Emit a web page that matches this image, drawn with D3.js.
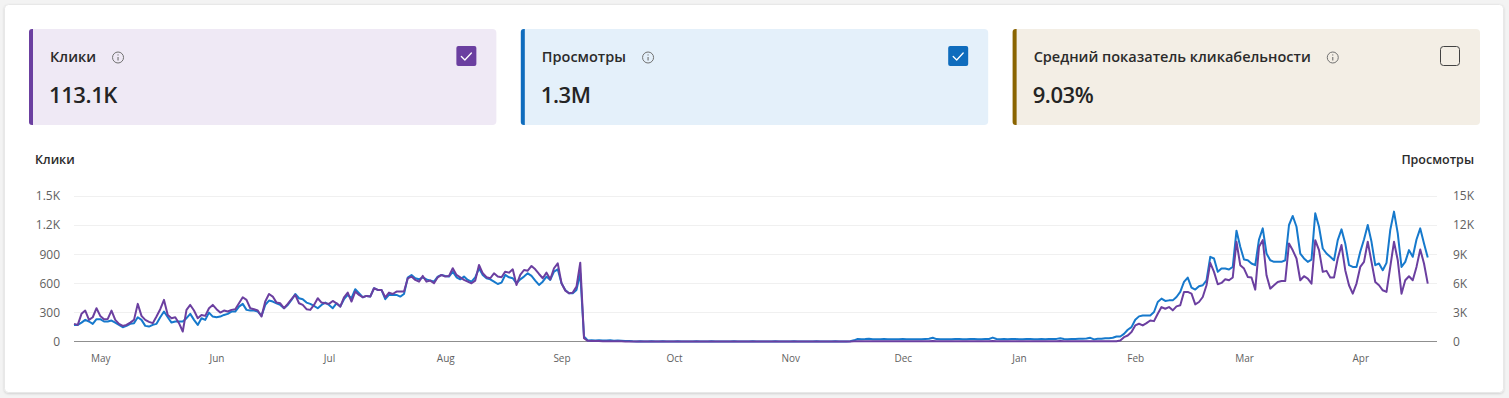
<!DOCTYPE html>
<html>
<head>
<meta charset="utf-8">
<script src="https://cdn.jsdelivr.net/npm/d3@7"></script>
<style>
  body { margin: 0; background: #f3f3f3; font-family: "Segoe UI", "Open Sans", sans-serif; }
  svg { display: block; }
</style>
</head>
<body>
<svg id="chart" width="1509" height="398"></svg>
<script>
// summary cards
const cardTitles = ["Клики", "Просмотры", "Средний показатель кликабельности"];
const cardValues = ["113.1K", "1.3M", "9.03%"];
const cardChecked = [true, true, false];

// axis labels
const leftAxisTitle = "Клики";
const rightAxisTitle = "Просмотры";
const clickTicks = [0, 300, 600, 900, 1200, 1500];
const viewTicks = [0, 3000, 6000, 9000, 12000, 15000];

// daily series, first day 2023-04-24
const firstDay = new Date(2023, 3, 24);

const clicks = [
  182, 171, 285, 319, 223, 250, 343, 264, 230, 233,
  319, 223, 182, 161, 171, 195, 223, 388, 264, 223,
  202, 189, 257, 333, 429, 274, 240, 250, 189, 103,
  326, 377, 319, 240, 274, 264, 343, 377, 333, 298,
  319, 309, 326, 333, 394, 456, 429, 343, 333, 319,
  257, 412, 490, 463, 401, 394, 343, 388, 436, 480,
  394, 377, 333, 326, 377, 446, 401, 394, 388, 418,
  394, 360, 456, 504, 412, 515, 480, 456, 470, 463,
  549, 532, 532, 456, 504, 490, 515, 515, 515, 650,
  669, 635, 617, 676, 617, 628, 600, 662, 686, 669,
  676, 755, 686, 662, 635, 617, 600, 628, 789, 703,
  662, 652, 703, 669, 662, 720, 710, 744, 583, 686,
  737, 730, 779, 744, 696, 652, 710, 641, 755, 806,
  600, 525, 497, 504, 566, 813, 34, 7,
  5, 4, 4, 3, 3, 2, 3, 2, 2, 1, 1,
  1, 0, 1, 0, 0, 1, 0, 0, 1, 0,
  0, 0, 1, 0, 0, 0, 0, 1, 0, 0,
  0, 1, 0, 0, 0, 0, 0, 1, 0, 0,
  0, 0, 1, 0, 0, 0, 0, 0, 1, 0,
  0, 0, 0, 1, 0, 0, 0, 0, 0, 1,
  0, 0, 0, 0, 1, 0, 0, 0, 1, 2,
  3, 2, 3, 3, 2, 2, 3, 3, 2, 2,
  2, 3, 3, 2, 2, 3, 3, 2, 3, 3,
  4, 3, 2, 2, 3, 2, 3, 3, 2, 2,
  3, 3, 2, 2, 3, 3, 4, 3, 2, 3,
  2, 3, 3, 2, 2, 3, 3, 2, 2, 3,
  2, 3, 3, 3, 4, 3, 2, 3, 3, 3,
  3, 3,
  3, 3, 3, 3, 3, 3, 3, 3, 10, 45,
  62, 97, 166, 183, 166, 190, 217, 210, 286, 355,
  338, 355, 321, 362, 373, 511, 511, 493, 383, 407,
  459, 580, 811, 718, 590, 604, 642, 631, 660, 1028,
  787, 752, 666, 659, 535, 976, 1045, 683, 545, 580,
  614, 624, 624, 1011, 940, 856, 631, 673, 649, 597,
  1045, 942, 718, 728, 659, 659, 856, 994, 735, 580,
  493, 597, 769, 821, 1028, 821, 614, 580, 528, 511,
  769, 1028, 838, 493, 631, 673, 631, 769, 949, 804,
  597
];

const views = [
  1710, 1710, 1950, 2230, 2060, 1820, 2300, 2300, 2060, 2060,
  2160, 1950, 1710, 1470, 1610, 1820, 1890, 2500, 2230, 1610,
  1540, 1710, 1820, 2500, 3090, 2500, 1950, 2060, 2060, 2060,
  2400, 2850, 2230, 1710, 2400, 2230, 2980, 2570, 2500, 2570,
  2740, 2850, 3090, 3090, 3600, 3880, 3260, 3190, 3190, 3090,
  2640, 3770, 4220, 4120, 3940, 3770, 3430, 3770, 4290, 4900,
  4460, 4360, 4010, 3880, 3670, 3430, 3770, 4010, 3770, 3430,
  3940, 3600, 4360, 4800, 4460, 5390, 4970, 4560, 4700, 4630,
  5490, 5320, 5320, 4360, 4800, 4800, 4800, 4630, 4900, 6600,
  6860, 6520, 6410, 6620, 6410, 6280, 6170, 6690, 6860, 6760,
  6690, 7200, 6620, 6410, 6690, 6350, 6170, 6620, 7550, 6860,
  6520, 6410, 6170, 5930, 6070, 6860, 6620, 6520, 6000, 6410,
  6690, 7030, 6760, 6280, 5830, 6170, 6690, 6350, 7200, 7440,
  6000, 5320, 4970, 4970, 5320, 7030, 510, 100,
  120, 110, 130, 110, 100, 120, 90, 100, 80, 60, 40,
  20, 10, 20, 10, 10, 20, 10, 10, 20, 10,
  10, 10, 20, 10, 10, 10, 10, 20, 10, 10,
  10, 20, 10, 10, 10, 10, 10, 20, 10, 10,
  10, 10, 20, 10, 10, 10, 10, 10, 20, 10,
  10, 10, 10, 20, 10, 10, 10, 10, 10, 20,
  10, 10, 10, 10, 20, 10, 10, 10, 30, 120,
  260, 230, 250, 280, 240, 220, 230, 250, 240, 230,
  220, 240, 260, 230, 220, 230, 240, 220, 250, 280,
  380, 250, 230, 220, 240, 230, 250, 260, 240, 230,
  250, 270, 230, 240, 250, 260, 400, 260, 240, 250,
  230, 260, 250, 240, 230, 250, 260, 240, 230, 250,
  240, 260, 250, 270, 330, 260, 240, 250, 260, 280,
  290, 300,
  380, 220, 280, 280, 340, 340, 380, 520, 520, 790,
  1210, 1480, 2240, 2590, 2690, 2690, 2690, 3040, 4070, 4420,
  4180, 4240, 4240, 4590, 5110, 6140, 6590, 5560, 5350, 5690,
  5800, 6310, 8730, 8560, 7180, 7520, 7520, 7420, 7690, 11420,
  9760, 8450, 8380, 8040, 7870, 10520, 11660, 9070, 8380, 8210,
  8210, 8210, 8380, 12010, 12940, 11830, 9070, 8560, 8210, 8450,
  13210, 11830, 9590, 9070, 8730, 8380, 10450, 11560, 10110, 7870,
  7690, 7690, 9250, 10520, 12010, 10280, 7870, 8040, 7350, 8110,
  11490, 13390, 11140, 7690, 8210, 9420, 8730, 10520, 11660, 10110,
  8660
];

const purple = "#6b3fa0";
const blue = "#0f6cbd";

const svg = d3.select("#chart");

const defs = svg.append("defs");
const shadow = defs.append("filter").attr("id", "shadow")
  .attr("x", "-2%").attr("y", "-2%").attr("width", "104%").attr("height", "106%");
shadow.append("feDropShadow").attr("dx", 0).attr("dy", 1).attr("stdDeviation", 1.2)
  .attr("flood-color", "#000").attr("flood-opacity", 0.14);

// white panel
svg.append("rect")
  .attr("x", 4.5).attr("y", 4.5).attr("width", 1499).attr("height", 388)
  .attr("rx", 4).attr("fill", "#fff").attr("stroke", "#e8e8e8")
  .attr("filter", "url(#shadow)");

// ---- cards ----
const cardStyles = [
  { bg: "#efe9f5", edge: purple, box: purple },
  { bg: "#e4f0fa", edge: blue, box: blue },
  { bg: "#f3eee5", edge: "#8a6400", box: null }
];

const cardX = d3.scaleBand().domain(d3.range(cardTitles.length)).range([29, 1480]).paddingInner(0.0497);

cardTitles.forEach((title, i) => {
  const x0 = cardX(i), w = cardX.bandwidth();
  const g = svg.append("g").attr("transform", `translate(${x0},29)`);
  g.append("rect").attr("width", w).attr("height", 96).attr("rx", 4).attr("fill", cardStyles[i].bg);
  g.append("path")
    .attr("d", "M4,0 L4,96 L3,96 Q0,96 0,93 L0,3 Q0,0 3,0 Z")
    .attr("fill", cardStyles[i].edge);

  const t = g.append("text").attr("x", 21).attr("y", 33)
    .attr("font-size", 14.5).attr("font-weight", 600).attr("fill", "#2b2b2b")
    .text(title);
  const tw = t.node().getComputedTextLength();
  const info = g.append("g").attr("transform", `translate(${21 + tw + 22},28.5)`)
    .attr("stroke", "#707070").attr("fill", "none");
  info.append("circle").attr("r", 5.5).attr("stroke-width", 1);
  info.append("line").attr("x1", 0).attr("x2", 0).attr("y1", -0.5).attr("y2", 3).attr("stroke-width", 1.1);
  info.append("circle").attr("cx", 0).attr("cy", -2.6).attr("r", 0.6).attr("fill", "#707070").attr("stroke", "none");

  g.append("text").attr("x", 20).attr("y", 74)
    .attr("font-size", 22).attr("font-weight", 600).attr("letter-spacing", -0.4).attr("fill", "#242424")
    .text(cardValues[i]);

  const bx = w - 40, by = 17;
  if (cardChecked[i]) {
    g.append("rect").attr("x", bx).attr("y", by).attr("width", 20).attr("height", 20)
      .attr("rx", 2).attr("fill", cardStyles[i].box);
    g.append("path").attr("d", `M${bx + 5},${by + 10.5} L${bx + 8.5},${by + 14} L${bx + 15},${by + 7}`)
      .attr("fill", "none").attr("stroke", "#fff").attr("stroke-width", 1.3)
      .attr("stroke-linecap", "round").attr("stroke-linejoin", "round");
  } else {
    g.append("rect").attr("x", bx + 0.5).attr("y", by + 0.5).attr("width", 19).attr("height", 19)
      .attr("rx", 3).attr("fill", "none").attr("stroke", "#424242").attr("stroke-width", 1);
  }
});

// ---- chart ----
const dates = clicks.map((_, i) => d3.timeDay.offset(firstDay, i));
const plotLeft = 74, plotRight = 1437, plotTop = 196, plotBottom = 341.5;

const x = d3.scaleTime()
  .domain([dates[0], dates[dates.length - 1]])
  .range([plotLeft, plotLeft + (dates.length - 1) * 3.75]);
const yClicks = d3.scaleLinear().domain([0, 1500]).range([plotBottom, plotTop]);
const yViews = d3.scaleLinear().domain([0, 15000]).range([plotBottom, plotTop]);

svg.append("text").attr("x", 35).attr("y", 164)
  .attr("font-size", 12.5).attr("font-weight", 600).attr("fill", "#2b2b2b")
  .text(leftAxisTitle);
svg.append("text").attr("x", 1474).attr("y", 164).attr("text-anchor", "end")
  .attr("font-size", 12.5).attr("font-weight", 600).attr("fill", "#2b2b2b")
  .text(rightAxisTitle);

// grid
svg.append("g").selectAll("line").data(clickTicks.slice(1)).join("line")
  .attr("x1", plotLeft).attr("x2", plotRight)
  .attr("y1", d => Math.round(yClicks(d)) + 0.5).attr("y2", d => Math.round(yClicks(d)) + 0.5)
  .attr("stroke", "#f0f0f0");

const leftAxis = svg.append("g").attr("transform", `translate(${plotLeft - 14},0)`)
  .call(d3.axisLeft(yClicks).tickValues(clickTicks).tickSize(0)
    .tickFormat(d => d >= 1000 ? d3.format(".1f")(d / 1000) + "K" : d));
const rightAxis = svg.append("g").attr("transform", `translate(${plotRight + 16},0)`)
  .call(d3.axisRight(yViews).tickValues(viewTicks).tickSize(0)
    .tickFormat(d => d === 0 ? "0" : d / 1000 + "K"));
[leftAxis, rightAxis].forEach(a => {
  a.select(".domain").remove();
  a.selectAll("text").attr("font-size", 12).attr("fill", "#616161")
    .attr("font-family", "\"Segoe UI\", \"Open Sans\", sans-serif").attr("x", 0);
});

const months = d3.timeMonth.range(d3.timeMonth.ceil(dates[0]), dates[dates.length - 1]);
const xAxis = svg.append("g").attr("transform", `translate(0,${plotBottom + 10})`)
  .call(d3.axisBottom(x).tickValues(months).tickSize(0).tickFormat(d3.timeFormat("%b")));
xAxis.select(".domain").remove();
xAxis.selectAll("text").attr("font-size", 10).attr("fill", "#616161")
  .attr("font-family", "\"Segoe UI\", \"Open Sans\", sans-serif");

svg.append("line").attr("x1", plotLeft).attr("x2", plotRight)
  .attr("y1", plotBottom).attr("y2", plotBottom).attr("stroke", "#8f8f8f").attr("stroke-width", 1);

const viewLine = d3.line().x((d, i) => x(dates[i])).y(d => yViews(d));
const clickLine = d3.line().x((d, i) => x(dates[i])).y(d => yClicks(d));

svg.append("path").datum(views).attr("d", viewLine)
  .attr("fill", "none").attr("stroke", "#1679cc").attr("stroke-width", 2)
  .attr("stroke-linejoin", "round");
svg.append("path").datum(clicks).attr("d", clickLine)
  .attr("fill", "none").attr("stroke", purple).attr("stroke-width", 2)
  .attr("stroke-linejoin", "round");
</script>
</body>
</html>
